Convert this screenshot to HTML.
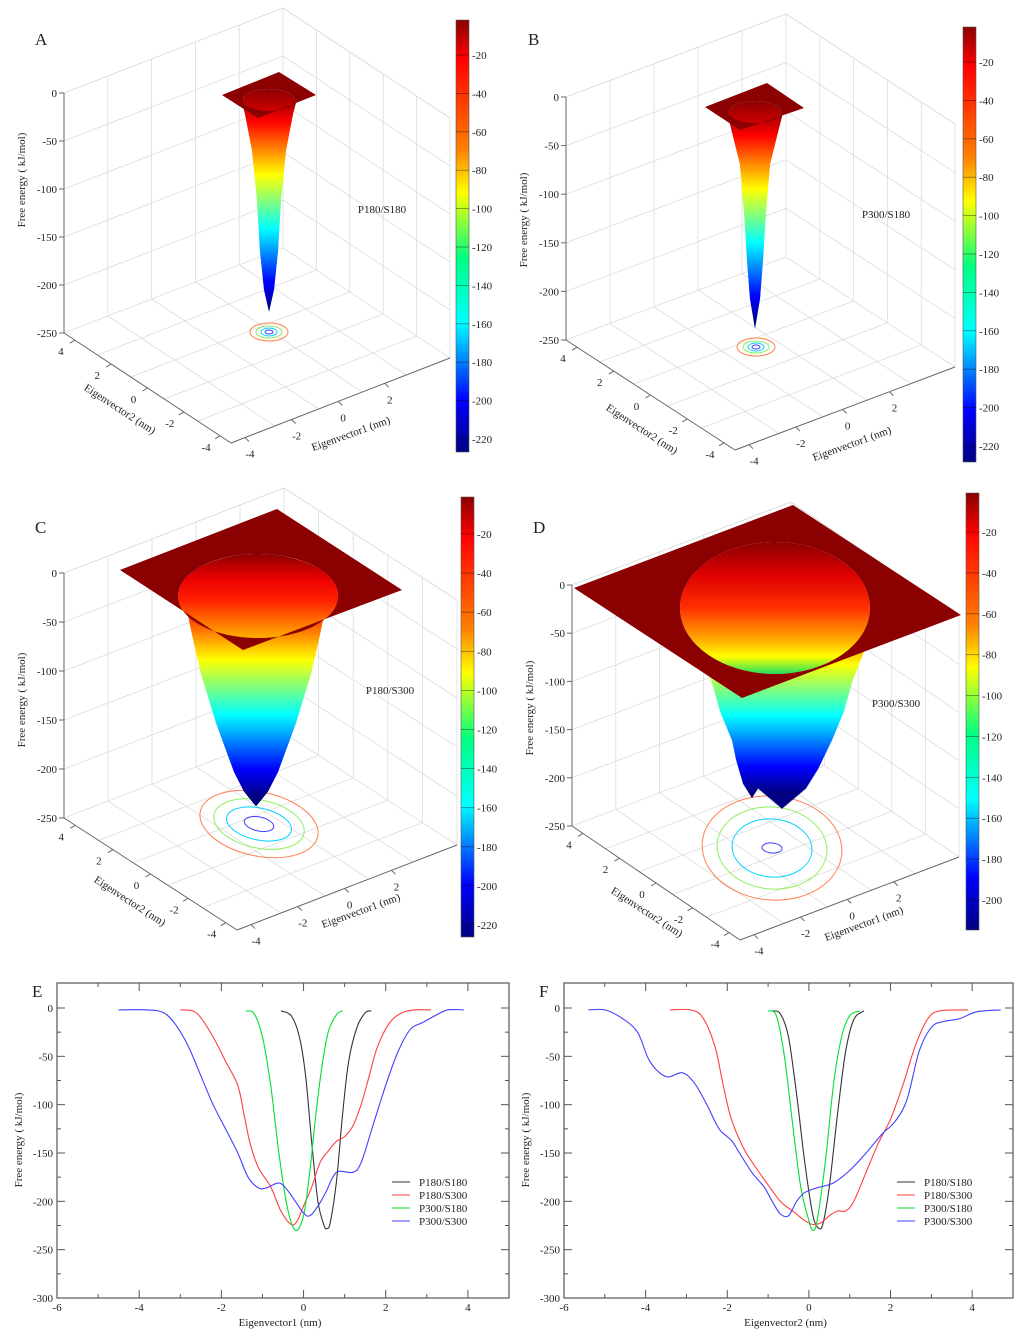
<!DOCTYPE html>
<html><head><meta charset="utf-8"><title>Free energy landscapes</title>
<style>
html,body{margin:0;padding:0;background:#fff;}
svg{display:block;font-family:"Liberation Serif",serif;}
</style></head>
<body>
<svg id="fig" width="1024" height="1344" viewBox="0 0 1024 1344" xmlns="http://www.w3.org/2000/svg">
<defs>
<linearGradient id="jet" x1="0" y1="0" x2="0" y2="1">
<stop offset="0" stop-color="#8a0000"/><stop offset="0.09" stop-color="#ff0000"/><stop offset="0.3" stop-color="#ff8000"/><stop offset="0.4" stop-color="#ffff00"/><stop offset="0.55" stop-color="#00ff80"/><stop offset="0.7" stop-color="#00ffff"/><stop offset="0.88" stop-color="#0000ff"/><stop offset="1" stop-color="#000080"/>
</linearGradient>
<linearGradient id="holeA" x1="0" y1="0" x2="0" y2="1"><stop offset="0" stop-color="#8b0000"/><stop offset="1" stop-color="#d00000"/></linearGradient>
<linearGradient id="holeC" x1="0" y1="0" x2="0" y2="1"><stop offset="0" stop-color="#8b0000"/><stop offset="0.3" stop-color="#ee0000"/><stop offset="0.55" stop-color="#ff2000"/><stop offset="0.85" stop-color="#ff8000"/><stop offset="1" stop-color="#ffb000"/></linearGradient>
<linearGradient id="holeD" x1="0" y1="0" x2="0" y2="1"><stop offset="0" stop-color="#8b0000"/><stop offset="0.25" stop-color="#e00000"/><stop offset="0.5" stop-color="#ff3000"/><stop offset="0.72" stop-color="#ffa000"/><stop offset="0.87" stop-color="#ffff00"/><stop offset="1" stop-color="#20e060"/></linearGradient>
</defs>
</svg>
<script>
// ---------- Line chart data (panel E: Eigenvector1) ----------
const eCategories = ["P180/S180","P180/S300","P300/S180","P300/S300"];
const eX_P180S180 = [-0.55,-0.3,-0.1,0.05,0.2,0.35,0.5,0.57,0.65,0.8,0.95,1.1,1.3,1.5,1.65];
const eY_P180S180 = [-3,-8,-30,-70,-140,-200,-225,-228,-222,-180,-110,-55,-20,-5,-3];
const eX_P180S300 = [-3,-2.7,-2.5,-2.2,-1.9,-1.6,-1.45,-1.3,-1.1,-0.8,-0.55,-0.3,-0.15,0,0.2,0.4,0.6,0.8,1.0,1.2,1.4,1.6,1.8,2.1,2.4,2.7,3.1];
const eY_P180S300 = [-2,-3,-10,-30,-55,-80,-110,-140,-165,-185,-210,-224,-220,-205,-185,-160,-148,-138,-133,-122,-100,-70,-40,-15,-5,-2,-2];
const eX_P300S180 = [-1.4,-1.2,-1.0,-0.8,-0.6,-0.4,-0.2,0,0.15,0.3,0.45,0.6,0.8,0.95];
const eY_P300S180 = [-3,-6,-30,-80,-150,-205,-230,-215,-170,-110,-60,-25,-7,-3];
const eX_P300S300 = [-4.5,-3.8,-3.4,-3.1,-2.8,-2.5,-2.2,-1.9,-1.6,-1.35,-1.1,-0.9,-0.6,-0.4,-0.2,0,0.15,0.35,0.55,0.8,1.2,1.4,1.7,2.0,2.3,2.6,2.9,3.2,3.5,3.9];
const eY_P300S300 = [-2,-2,-5,-18,-40,-70,-100,-125,-150,-175,-186,-186,-181,-188,-200,-212,-215,-205,-190,-170,-170,-160,-120,-80,-45,-22,-15,-8,-2,-2];
// ---------- Line chart data (panel F: Eigenvector2) ----------
const fX_P180S180 = [-0.9,-0.7,-0.5,-0.3,-0.1,0.1,0.25,0.35,0.5,0.7,0.9,1.1,1.35];
const fY_P180S180 = [-3,-6,-30,-90,-160,-215,-228,-222,-185,-110,-45,-12,-3];
const fX_P180S300 = [-3.4,-2.9,-2.6,-2.3,-2.1,-1.9,-1.6,-1.3,-1.0,-0.7,-0.4,-0.1,0.1,0.3,0.5,0.7,0.9,1.1,1.4,1.7,2.0,2.3,2.6,2.9,3.2,3.9];
const fY_P180S300 = [-2,-2,-10,-40,-80,-115,-145,-165,-183,-200,-210,-220,-224,-222,-215,-210,-210,-200,-170,-140,-115,-80,-40,-12,-3,-2];
const fX_P300S180 = [-1.0,-0.8,-0.6,-0.4,-0.2,0.0,0.1,0.2,0.4,0.6,0.8,1.0,1.25];
const fY_P300S180 = [-3,-8,-50,-120,-185,-220,-230,-220,-160,-80,-30,-8,-3];
const fX_P300S300 = [-5.4,-5.0,-4.6,-4.2,-3.9,-3.5,-3.1,-2.8,-2.5,-2.2,-1.9,-1.7,-1.4,-1.1,-0.9,-0.7,-0.5,-0.3,-0.1,0.2,0.6,1.0,1.4,1.8,2.1,2.4,2.7,3.0,3.3,3.7,4.1,4.7];
const fY_P300S300 = [-2,-2,-10,-25,-55,-71,-67,-78,-100,-125,-137,-150,-170,-185,-200,-213,-215,-200,-191,-186,-181,-168,-150,-130,-118,-95,-45,-20,-14,-11,-4,-2];
const seriesColors = ["#333333","#ff4040","#00e030","#4040ff"];
const xTicks = [-6,-4,-2,0,2,4];
const yTicks = [0,-50,-100,-150,-200,-250,-300];
// ---------- 3D surface profiles (energy levels in kJ/mol, half-width px) ----------
const cbTicks = [-20,-40,-60,-80,-100,-120,-140,-160,-180,-200,-220];
const cbTicksD = [-20,-40,-60,-80,-100,-120,-140,-160,-180,-200];
const zTicks = [0,-50,-100,-150,-200,-250];
const ev1Ticks = [-4,-2,0,2];
const ev2Ticks = [4,2,0,-2,-4];
const coneE_A = [-10,-22,-60,-112,-165,-205,-228];
const coneW_A = [27,24,17,12,9,5,0];
const coneE_B = [-10,-22,-60,-110,-160,-200,-231];
const coneW_B = [27,24,15,11,8,5,0];
const coneE_C = [-30,-60,-100,-150,-200,-220,-235];
const coneW_C = [70,64,55,40,22,12,0];
const coneE_D = [-60,-100,-130,-160,-190,-210,-231];
const coneW_D = [85,70,62,50,36,24,0];
const cone2E_D = [-150,-180,-205,-220];
const cone2W_D = [22,16,9,0];

const NS='http://www.w3.org/2000/svg';
const svg=document.getElementById('fig');
function mk(tag,attrs,parent){const e=document.createElementNS(NS,tag);for(const k in attrs)e.setAttribute(k,attrs[k]);(parent||svg).appendChild(e);return e;}
function txt(x,y,s,size,anchor,parent,rot){const t=mk('text',{x:x,y:y,'font-size':size,'text-anchor':anchor||'start',fill:'#222'},parent);if(rot)t.setAttribute('transform','rotate('+rot+' '+x+' '+y+')');t.textContent=s;return t;}
function lerp(a,b,t){return [a[0]+(b[0]-a[0])*t,a[1]+(b[1]-a[1])*t];}
function clamp(v){return Math.max(0,Math.min(1,v));}
function jet(t){const r=clamp(1.5-Math.abs(4*t-3)),g=clamp(1.5-Math.abs(4*t-2)),b=clamp(1.5-Math.abs(4*t-1));return 'rgb('+Math.round(r*255)+','+Math.round(g*255)+','+Math.round(b*255)+')';}
function interp(xs,ys,x){if(x>=xs[0])return ys[0];for(let i=1;i<xs.length;i++){if(x>=xs[i]){const t=(x-xs[i-1])/(xs[i]-xs[i-1]);return ys[i-1]+(ys[i]-ys[i-1])*t;}}return ys[ys.length-1];}

function drawCone(par,cx,zeroY,k,es,ws,eMin){
  const yTop=zeroY-es[0]*k, yTip=zeroY-es[es.length-1]*k;
  for(let y=yTop;y<=yTip;y+=1){
    const E=-(y-zeroY)/k;
    const hw=interp(es,ws,E);
    mk('rect',{x:cx-hw,y:y,width:2*hw,height:1.6,fill:jet(clamp((E-eMin)/(-2-eMin)))},par);
  }
}

function panel3D(p){
  const g=mk('g',{});
  
  
  const L=p.L,F=p.F,R=p.R,H=p.H;
  const B=[R[0]+L[0]-F[0],R[1]+L[1]-F[1]];
  const up=pt=>[pt[0],pt[1]-H];
  const gridG=mk('g',{stroke:'#dcdcdc','stroke-width':0.8,fill:'none'},g);
  
  
  const ln=(a,b,par,st,w)=>mk('line',{x1:a[0],y1:a[1],x2:b[0],y2:b[1],stroke:st||'#dcdcdc','stroke-width':w||0.8},par);
  for(let i=1;i<=4;i++){const t=i/5;ln(lerp(F,R,t),lerp(L,B,t),gridG);ln(lerp(F,L,t),lerp(R,B,t),gridG);}
  for(let i=1;i<=4;i++){const t=i/5;const a=lerp(L,B,t),b=lerp(R,B,t);ln(a,up(a),gridG);ln(b,up(b),gridG);}
  for(let i=0;i<=5;i++){const dy=H*i/5;ln([L[0],L[1]-dy],[B[0],B[1]-dy],gridG);ln([B[0],B[1]-dy],[R[0],R[1]-dy],gridG);}
  ln(B,up(B),gridG);ln(R,up(R),gridG);ln(up(L),up(B),gridG);ln(up(B),up(R),gridG);
  const ax=mk('g',{},g);
  
  
  ln(L,up(L),ax,'#666',1);ln(L,F,ax,'#666',1);ln(F,R,ax,'#666',1);
  zTicks.forEach(z=>{const y=L[1]-H*(z+250)/250;ln([L[0]-5,y],[L[0],y],ax,'#666',1);const t=txt(L[0]-7,y+4,String(z),11,'end',ax);});
  ev2Ticks.forEach(v=>{const t=(4.6-v)/9.2;const q=lerp(L,F,t);ln(q,[q[0]-5,q[1]+3],ax,'#666',1);const s=txt(q[0]-14,q[1]+15,String(v),11,'middle',ax);});
  ev1Ticks.forEach(u=>{const t=(u+4.6)/9.4;const q=lerp(F,R,t);ln(q,[q[0]+4,q[1]+4],ax,'#666',1);const s=txt(q[0]+5,q[1]+20,String(u),11,'middle',ax);});
  const cg=mk('g',{fill:'none','stroke-width':1},g);
  
  
  const cc=['#ff7f50','#90ee60','#00d0ff','#4040ff'];
  p.contours.forEach((c,i)=>{mk('ellipse',{cx:p.cc[0],cy:p.cc[1],rx:c[0],ry:c[1],stroke:cc[i],transform:'rotate('+(p.crot||0)+' '+p.cc[0]+' '+p.cc[1]+')'},cg);});
  const sg=mk('g',{},g);
  
  
  if(p.cone2) drawCone(sg,p.cone2.cx,p.zeroY,p.k,p.cone2.e,p.cone2.w,p.eMin);
  drawCone(sg,p.cx,p.zeroY,p.k,p.coneE,p.coneW,p.eMin);
  const h=p.hole;
  mk('ellipse',{cx:h[0],cy:h[1],rx:h[2],ry:h[3],fill:'url(#'+p.holeGrad+')'},sg);
  const s=p.sq;
  const d='M'+s.map(q=>q.join(' ')).join(' L')+' Z M'+(h[0]-h[2])+' '+h[1]+' a'+h[2]+' '+h[3]+' 0 1 0 '+(2*h[2])+' 0 a'+h[2]+' '+h[3]+' 0 1 0 '+(-2*h[2])+' 0 Z';
  mk('path',{d:d,fill:'#8b0000','fill-rule':'evenodd'},sg);
  const cb=p.cb;
  const bar=mk('rect',{x:cb.x,y:cb.y0,width:13,height:cb.y1-cb.y0,fill:'url(#jet)',stroke:'#555','stroke-width':0.6},g);
  
  
  const ticks=p.cbTicks;
  ticks.forEach(v=>{const y=cb.ya+(v-ticks[0])*(cb.yb-cb.ya)/(ticks[ticks.length-1]-ticks[0]);ln([cb.x,y],[cb.x+13,y],g,'rgba(0,0,0,0.45)',0.8);const t=txt(cb.x+16,y+4,String(v),11,'start',g);});
  const lt=txt(p.letter[0],p.letter[1],p.id,17,'start',g);
  const nm=txt(p.name[0],p.name[1],p.title,11,'middle',g);
  const zt=txt(p.zl[0],p.zl[1],'Free energy ( kJ/mol)',11,'middle',g,-90);
  const e2=txt(p.e2[0],p.e2[1],'Eigenvector2 (nm)',11,'middle',g,33);
  const e1=txt(p.e1[0],p.e1[1],'Eigenvector1 (nm)',11,'middle',g,-20);
}

panel3D({id:'A',title:'P180/S180',L:[64,333],F:[231,443],R:[450,358],H:240,cx:269,zeroY:92,k:0.96,eMin:-226,coneE:coneE_A,coneW:coneW_A,
  hole:[269,100,26,11],holeGrad:'holeA',sq:[[222,95],[279,72],[316,95],[258,118]],cc:[269,332],contours:[[19,9],[13,6],[8,4],[4,2]],
  cb:{x:456,y0:20,y1:452,ya:55,yb:439},cbTicks:cbTicks,letter:[35,45],name:[382,213],zl:[25,180],e2:[118,412],e1:[352,437]});
panel3D({id:'B',title:'P300/S180',L:[566,340],F:[735,450],R:[955,367],H:243,cx:755,zeroY:106,k:0.96,eMin:-226,coneE:coneE_B,coneW:coneW_B,
  hole:[755,112,26,11],holeGrad:'holeA',sq:[[705,107],[767,83],[804,108],[740,130]],cc:[756,347],contours:[[19,9],[13,6],[8,4],[4,2]],
  cb:{x:963,y0:27,y1:462,ya:62,yb:446},cbTicks:cbTicks,letter:[528,45],name:[886,218],zl:[527,220],e2:[640,432],e1:[853,447]});
panel3D({id:'C',title:'P180/S300',L:[64,818],F:[237,930],R:[457,845],H:245,cx:256,zeroY:575,k:0.98,eMin:-226,coneE:coneE_C,coneW:coneW_C,
  hole:[258,596,80,42],holeGrad:'holeC',sq:[[120,570],[277,509],[402,590],[243,650]],cc:[259,824],crot:12,contours:[[60,32],[46,24],[33,16],[15,7]],
  cb:{x:461,y0:497,y1:937,ya:534,yb:925},cbTicks:cbTicks,letter:[35,533],name:[390,694],zl:[25,700],e2:[128,904],e1:[362,914]});
panel3D({id:'D',title:'P300/S300',L:[572,826],F:[740,940],R:[959,857],H:241,cx:782,zeroY:585,k:0.964,eMin:-215,coneE:coneE_D,coneW:coneW_D,
  cone2:{cx:752,e:cone2E_D,w:cone2W_D},
  hole:[775,608,95,66],holeGrad:'holeD',sq:[[574,588],[793,505],[961,615],[742,698]],cc:[772,848],crot:5,contours:[[70,52],[55,41],[40,29],[10,5]],
  cb:{x:966,y0:493,y1:930,ya:532,yb:900},cbTicks:cbTicksD,letter:[533,533],name:[896,707],zl:[533,708],e2:[645,915],e1:[865,927]});

// ---------- 2D line charts ----------
function smoothPath(pts){let d='M'+pts[0][0].toFixed(1)+' '+pts[0][1].toFixed(1);for(let i=0;i<pts.length-1;i++){const p0=pts[i-1]||pts[i],p1=pts[i],p2=pts[i+1],p3=pts[i+2]||p2;const c1=[p1[0]+(p2[0]-p0[0])/6,p1[1]+(p2[1]-p0[1])/6],c2=[p2[0]-(p3[0]-p1[0])/6,p2[1]-(p3[1]-p1[1])/6];d+=' C'+c1[0].toFixed(1)+' '+c1[1].toFixed(1)+' '+c2[0].toFixed(1)+' '+c2[1].toFixed(1)+' '+p2[0].toFixed(1)+' '+p2[1].toFixed(1);}return d;}
function lineChart(o){
  const g=mk('g',{});
  
  
  const sx=v=>o.x0+(v+6)*(o.x1-o.x0)/11;
  const sy=v=>o.y0-v*(o.y1-o.y0)/300;
  const yTop=983;
  const fr=mk('rect',{x:o.x0,y:yTop,width:o.x1-o.x0,height:o.y1-yTop,fill:'none',stroke:'#555','stroke-width':1.2},g);
  
  
  const L=(a,b,c,d)=>mk('line',{x1:a,y1:b,x2:c,y2:d,stroke:'#555','stroke-width':1},g);
  for(let v=-6;v<=5;v+=1){const x=sx(v);const len=(v%2===0)?8:4;L(x,o.y1,x,o.y1-len);L(x,yTop,x,yTop+len);}
  for(let v=0;v>=-300;v-=25){const y=sy(v);const len=(v%50===0)?8:4;L(o.x0,y,o.x0+len,y);L(o.x1,y,o.x1-len,y);}
  xTicks.forEach(v=>{const t=txt(sx(v),o.y1+13,String(v),11,'middle',g);});
  yTicks.forEach(v=>{const t=txt(o.x0-4,sy(v)+4,String(v),11,'end',g);});
  const xt=txt((o.x0+o.x1)/2-3,1326,o.xTitle,11,'middle',g);
  const yt=txt(o.yTitleX,1140,'Free energy ( kJ/mol)',11,'middle',g,-90);
  const lt=txt(o.x0-25,997,o.id,17,'start',g);
  o.series.forEach((s,i)=>{
    const pts=s[0].map((x,j)=>[sx(x),sy(s[1][j])]);
    const p=mk('path',{d:smoothPath(pts),fill:'none',stroke:seriesColors[i],'stroke-width':1.1},g);
    
    
    const ly=1182+13*i;
    const ll=mk('line',{x1:o.legX,y1:ly,x2:o.legX+18,y2:ly,stroke:seriesColors[i],'stroke-width':1.1},g);
    
    
    const lt2=txt(o.legX+27,ly+4,eCategories[i],11,'start',g);
    
    
  });
}
lineChart({id:'E',x0:57,x1:509,y0:1008,y1:1298,xTitle:'Eigenvector1 (nm)',yTitleX:22,legX:392,
  series:[[eX_P180S180,eY_P180S180],[eX_P180S300,eY_P180S300],[eX_P300S180,eY_P300S180],[eX_P300S300,eY_P300S300]]});
lineChart({id:'F',x0:564,x1:1013,y0:1008,y1:1298,xTitle:'Eigenvector2 (nm)',yTitleX:529,legX:897,
  series:[[fX_P180S180,fY_P180S180],[fX_P180S300,fY_P180S300],[fX_P300S180,fY_P300S180],[fX_P300S300,fY_P300S300]]});
</script>
</body></html>
